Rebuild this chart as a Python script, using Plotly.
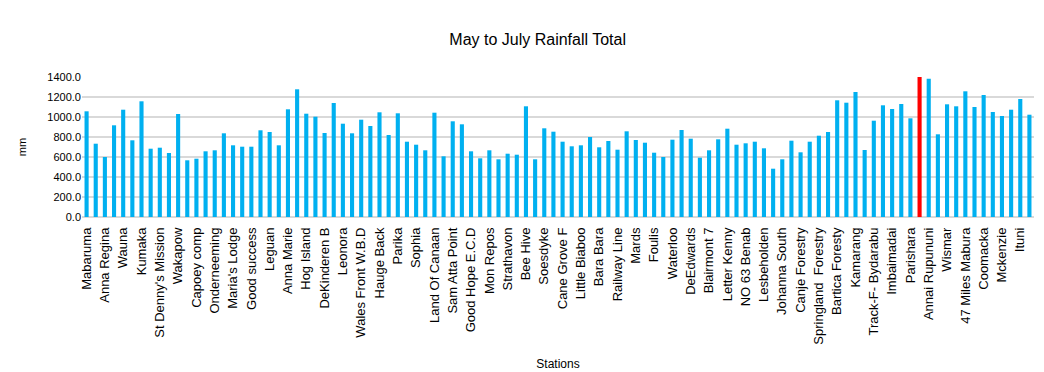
import plotly.graph_objects as go

# Labelled stations (every other bar carries a label)
stations = ["Mabaruma", "Anna Regina", "Wauna", "Kumaka", "St Denny's Mission", "Wakapow",
            "Capoey comp", "Onderneeming", "Maria's Lodge", "Good success", "Leguan", "Anna Marie",
            "Hog Island", "DeKinderen B", "Leonora", "Wales Front W.B.D", "Hauge Back", "Parika",
            "Sophia", "Land Of Canaan", "Sam Atta Point", "Good Hope E.C.D", "Mon Repos", "Strathavon",
            "Bee Hive", "Soesdyke", "Cane Grove F", "Little Biaboo", "Bara Bara", "Railway Line",
            "Mards", "Foulis", "Waterloo", "DeEdwards", "Blairmont 7", "Letter Kenny",
            "NO 63 Benab", "Lesbeholden", "Johanna South", "Canje Forestry", "Springland  Forestry",
            "Bartica Foresty", "Kamarang", "Track-F- Bydarabu", "Imbaimadai", "Parishara",
            "Annai Rupununi", "Wismar", "47 Miles Mabura", "Coomacka", "Mckenzie", "Ituni"]

rainfall = [1057, 733, 600, 917, 1073, 767, 1157, 683, 693, 640,
            1030, 567, 583, 657, 667, 837, 717, 703, 703, 867,
            850, 717, 1077, 1277, 1033, 1003, 840, 1140, 933, 837,
            973, 910, 1047, 820, 1037, 753, 723, 667, 1043, 607,
            957, 927, 657, 587, 667, 577, 633, 623, 1107, 577,
            887, 853, 753, 707, 717, 800, 697, 760, 673, 857,
            770, 743, 643, 600, 773, 870, 783, 593, 667, 777,
            883, 723, 737, 753, 687, 483, 577, 763, 647, 753,
            813, 850, 1167, 1143, 1250, 670, 963, 1117, 1080, 1130,
            987, 1400, 1383, 827, 1127, 1107, 1257, 1100, 1220, 1050,
            1010, 1073, 1180, 1023]

highlight_index = 91
y_ticks = [0, 200, 400, 600, 800, 1000, 1200, 1400]

positions = list(range(len(rainfall)))
colors = ["#FF0000" if i == highlight_index else "#00B0F0" for i in positions]

fig = go.Figure(go.Bar(
    x=positions, y=rainfall, marker=dict(color=colors, line=dict(width=0)),
    width=0.45,
))

fig.update_layout(
    width=1044, height=372,
    margin=dict(l=82, r=10, t=77, b=155),
    paper_bgcolor="white", plot_bgcolor="white",
    showlegend=False,
    font=dict(family="Liberation Sans, Arial, sans-serif", color="#000000"),
    title=dict(text="May to July Rainfall Total", x=0.515, xanchor="center",
               y=0.895, yanchor="middle", font=dict(size=16, color="#000000")),
)
fig.update_xaxes(
    range=[-0.5, len(rainfall) - 0.5],
    tickmode="array",
    tickvals=positions[::2][:len(stations)],
    ticktext=stations,
    tickangle=-90,
    tickfont=dict(size=13, color="#000000"),
    ticklabelstandoff=7,
    automargin=False,
    showgrid=False, showline=False, ticks="",
    title=dict(text="Stations", font=dict(size=12, color="#000000"), standoff=15),
)
fig.update_yaxes(
    range=[0, 1400],
    tickvals=y_ticks,
    ticktext=[f"{v:.1f}" for v in y_ticks],
    tickfont=dict(size=11, color="#000000"),
    showgrid=True, gridcolor="#D9D9D9", gridwidth=1.5,
    zeroline=True, zerolinecolor="#D9D9D9", zerolinewidth=1.5,
    showline=False, ticks="",
    automargin=False,
    title=dict(text="mm", font=dict(size=11, color="#000000"), standoff=18),
)

fig.write_html("out.html")
